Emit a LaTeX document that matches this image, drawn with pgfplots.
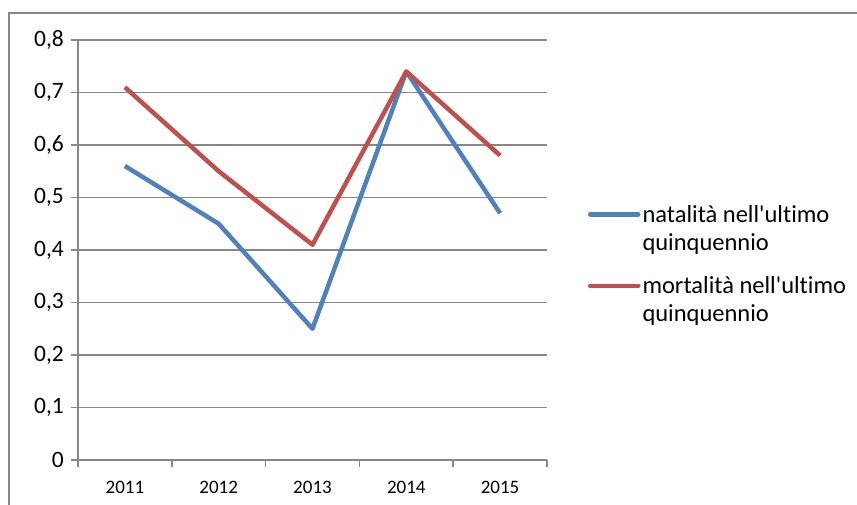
\documentclass[border=0pt]{standalone}
\usepackage{pgfplots}
\pgfplotsset{compat=1.18}
\usetikzlibrary{calc}
\usepackage{fontspec}
\setmainfont{Carlito}[Ligatures=NoCommon]
\definecolor{axgray}{HTML}{878787}
\definecolor{sblue}{HTML}{4F81BD}
\definecolor{sred}{HTML}{C0504D}
\begin{document}
\begin{tikzpicture}[x=1pt,y=1pt]
\begin{axis}[
  scale only axis, width=469pt, height=420pt,
  xmin=0.5, xmax=5.5, ymin=0, ymax=0.8,
  axis x line=bottom, axis y line=left,
  axis line style={axgray, line width=1.5pt, -},
  xtick={1,2,3,4,5},
  xticklabels={2011,2012,2013,2014,2015},
  major x tick style={draw=none},
  minor xtick={0.5,1.5,2.5,3.5,4.5,5.5},
  minor x tick style={axgray, line width=1.5pt},
  minor tick length=7pt,
  ytick={0,0.1,...,0.8},
  major y tick style={axgray, line width=1.5pt},
  major tick length=7pt,
  tick align=outside,
  ymajorgrids,
  major grid style={axgray, line width=1.5pt},
  /pgf/number format/assume math mode=true,
  /pgf/number format/use comma,
  /pgf/number format/fixed,
  /pgf/number format/precision=1,
  yticklabel style={font=\fontsize{23.5}{23.5}\selectfont, inner sep=0pt, xshift=-7pt},
  xticklabel style={font=\fontsize{19}{19}\selectfont, inner sep=0pt, yshift=-14pt},
  legend style={draw=none, fill=none, at={(1.087,0.612)}, anchor=north west,
    font=\fontsize{24.5}{28}\selectfont, row sep=21pt, inner sep=0pt},
  legend cell align=left,
  legend image code/.code={\draw[#1, line cap=round] (0pt,14pt) -- (48pt,14pt);},
  clip=false,
]
\addplot[sblue, line width=4.5pt, line join=round] coordinates {(1,0.56) (2,0.45) (3,0.25) (4,0.74) (5,0.47)};
\addlegendentry[align=left]{natalità nell\textquotesingle ultimo\\quinquennio}
\addplot[sred, line width=4.5pt, line join=round] coordinates {(1,0.71) (2,0.55) (3,0.41) (4,0.74) (5,0.58)};
\addlegendentry[align=left]{mortalità nell\textquotesingle ultimo\\quinquennio}
\coordinate (O) at (rel axis cs:0,0);
\end{axis}
\pgfresetboundingbox
\path[use as bounding box] ($(O)+(-78,-44)$) rectangle +(857,504);
\draw[axgray, line width=2.5pt] ($(O)+(-69,-80)$) rectangle ($(O)+(820,447)$);
\end{tikzpicture}
\end{document}
